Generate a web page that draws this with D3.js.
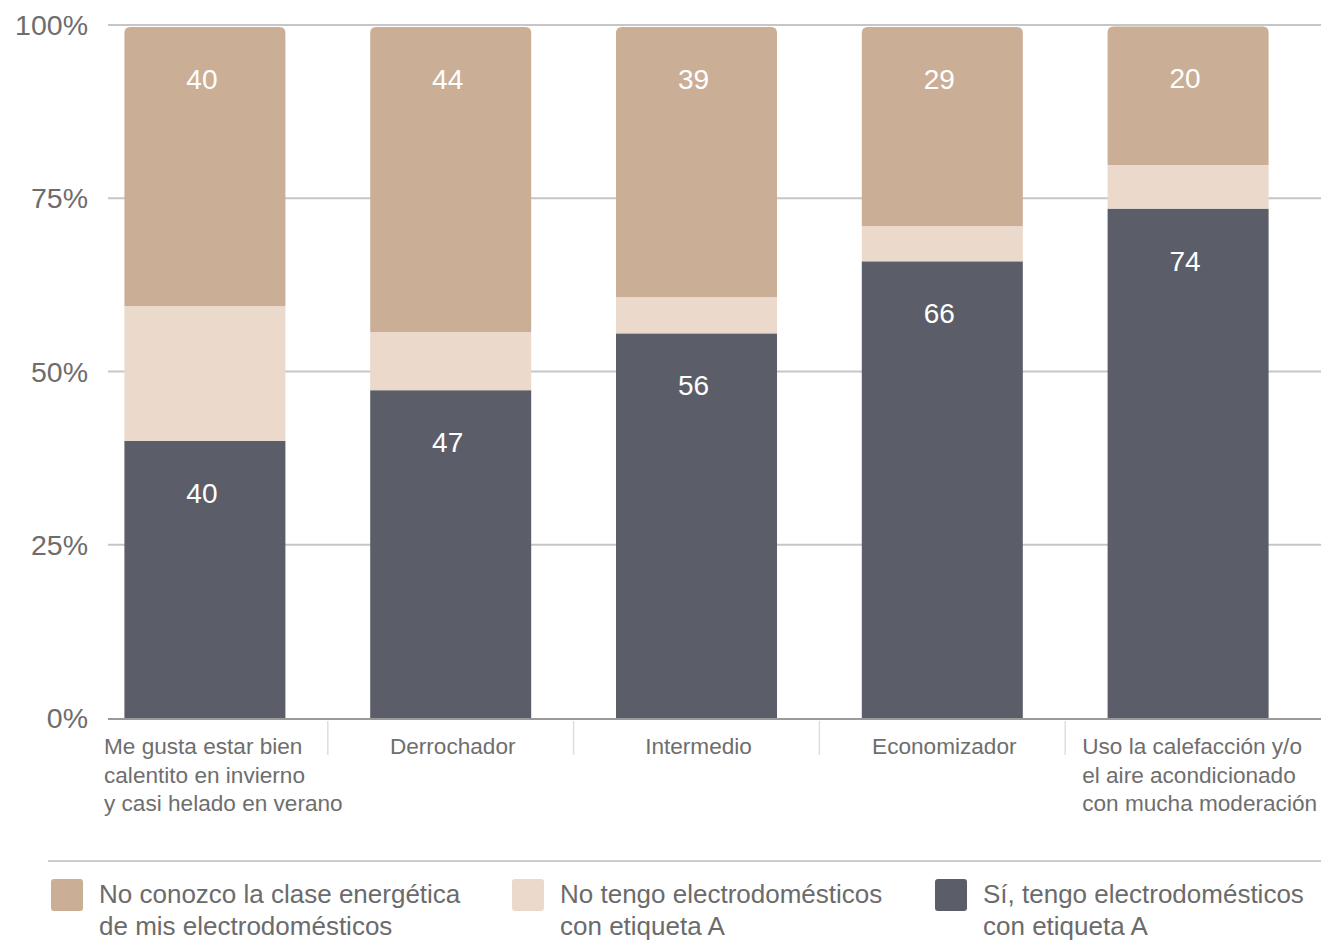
<!DOCTYPE html>
<html>
<head>
<meta charset="utf-8">
<script src="https://cdn.jsdelivr.net/npm/d3@7"></script>
<style>
  html, body { margin: 0; padding: 0; background: #fff; }
  svg { display: block; font-family: "Liberation Sans", Arial, sans-serif; }
</style>
</head>
<body>
<svg></svg>
<script>
// categorías (eje x), cada una con sus líneas de texto
const categories = [
    "Me gusta estar bien calentito en invierno y casi helado en verano",
    "Derrochador",
    "Intermedio",
    "Economizador",
    "Uso la calefacción y/o el aire acondicionado con mucha moderación"
];
const categoryLines = [
    ["Me gusta estar bien", "calentito en invierno", "y casi helado en verano"],
    ["Derrochador"],
    ["Intermedio"],
    ["Economizador"],
    ["Uso la calefacción y/o", "el aire acondicionado", "con mucha moderación"]
];

// series (de abajo hacia arriba)
const siTengo = [40, 47.3, 55.5, 65.9, 73.5];
const noTengo = [19.4, 8.4, 5.2, 5.1, 6.3];
const noConozco = [40.3, 44, 39, 28.7, 20];

const seriesNames = [
    "Sí, tengo electrodomésticos con etiqueta A",
    "No tengo electrodomésticos con etiqueta A",
    "No conozco la clase energética de mis electrodomésticos"
];
const legendLines = [
    ["No conozco la clase energética", "de mis electrodomésticos"],
    ["No tengo electrodomésticos", "con etiqueta A"],
    ["Sí, tengo electrodomésticos", "con etiqueta A"]
];
const yTicks = [0, 25, 50, 75, 100];

const colors = ["#5b5e68", "#ebd9cb", "#cbae96"];
const seriesValues = [siTengo, noTengo, noConozco];

const width = 1321, height = 946;
const svg = d3.select("svg").attr("width", width).attr("height", height);

const rows = categories.map((c, i) => {
    const r = { cat: c };
    seriesNames.forEach((s, k) => r[s] = seriesValues[k][i]);
    return r;
});
const stacked = d3.stack().keys(seriesNames)(rows);

const x = d3.scaleBand()
    .domain(categories)
    .range([82, 1311])
    .paddingInner(0.345)
    .paddingOuter(0.1725);

const y = d3.scaleLinear()
    .domain([0, 100])
    .range([718, 25]);

// líneas de cuadrícula
svg.append("g")
    .selectAll("line")
    .data(yTicks.filter(t => t > 0))
    .enter()
    .append("line")
    .attr("x1", 108)
    .attr("x2", width)
    .attr("y1", d => y(d))
    .attr("y2", d => y(d))
    .attr("stroke", "#c6c6c6")
    .attr("stroke-width", 2);

// etiquetas eje y
svg.append("g")
    .selectAll("text")
    .data(yTicks)
    .enter()
    .append("text")
    .attr("x", 88)
    .attr("y", d => y(d) + 10)
    .style("text-anchor", "end")
    .style("font-size", "28.5px")
    .style("fill", "#6d6d6d")
    .text(d => d + "%");

// barras
const step = x.step();
const bw = x.bandwidth();
const rad = 6;

stacked.forEach((layer, k) => {
    const g = svg.append("g");
    layer.forEach((d, i) => {
        const x0 = x(categories[i]);
        const top = y(d[1]), bot = y(d[0]);
        if (k === stacked.length - 1) {
            const p = d3.path();
            p.moveTo(x0, bot);
            p.lineTo(x0, top + rad);
            p.quadraticCurveTo(x0, top, x0 + rad, top);
            p.lineTo(x0 + bw - rad, top);
            p.quadraticCurveTo(x0 + bw, top, x0 + bw, top + rad);
            p.lineTo(x0 + bw, bot);
            p.closePath();
            g.append("path").attr("d", p.toString()).attr("fill", colors[k]);
        } else {
            g.append("rect")
                .attr("x", x0)
                .attr("y", top)
                .attr("width", bw)
                .attr("height", bot - top)
                .attr("fill", colors[k]);
        }
    });
});

// valores sobre las barras
[0, 2].forEach(k => {
    svg.append("g")
        .selectAll("text")
        .data(stacked[k])
        .enter()
        .append("text")
        .attr("x", (d, i) => x(categories[i]) + bw / 2 - 3)
        .attr("y", d => y(d[1]) + 62)
        .style("text-anchor", "middle")
        .style("font-size", "28px")
        .style("fill", "#fff")
        .text(d => Math.round(d[1] - d[0]));
});

// eje x
svg.append("line")
    .attr("x1", 108)
    .attr("x2", width)
    .attr("y1", y(0) + 1)
    .attr("y2", y(0) + 1)
    .attr("stroke", "#9a9a9a")
    .attr("stroke-width", 2);

// separadores entre categorías
svg.append("g")
    .selectAll("line")
    .data(categories.slice(1))
    .enter()
    .append("line")
    .attr("x1", d => x(d) - step * x.paddingInner() / 2)
    .attr("x2", d => x(d) - step * x.paddingInner() / 2)
    .attr("y1", y(0) + 3)
    .attr("y2", 755)
    .attr("stroke", "#dedede")
    .attr("stroke-width", 1.5);

// etiquetas de categorías
categories.forEach((c, i) => {
    const lines = categoryLines[i];
    const multi = lines.length > 1;
    const cellStart = x(c) - step * x.paddingInner() / 2;
    const t = svg.append("text")
        .attr("x", multi ? cellStart + (i === 0 ? 22 : 17) : x(c) + bw / 2 + 2)
        .attr("y", 754)
        .style("text-anchor", multi ? "start" : "middle")
        .style("font-size", "22.6px")
        .style("fill", "#6e6e6e");
    lines.forEach((l, j) => {
        t.append("tspan")
            .attr("x", t.attr("x"))
            .attr("dy", j === 0 ? 0 : 28.5)
            .text(l);
    });
});

// leyenda
svg.append("line")
    .attr("x1", 48)
    .attr("x2", width)
    .attr("y1", 861)
    .attr("y2", 861)
    .attr("stroke", "#bdbdbd")
    .attr("stroke-width", 1.5);

const legendX = [51, 512, 935];
const legendColors = [colors[2], colors[1], colors[0]];
legendLines.forEach((lines, i) => {
    const g = svg.append("g").attr("transform", `translate(${legendX[i]}, 879)`);
    g.append("rect")
        .attr("width", 32)
        .attr("height", 32)
        .attr("rx", 3)
        .attr("fill", legendColors[i]);
    const t = g.append("text")
        .attr("x", 48)
        .attr("y", 24)
        .style("font-size", "26px")
        .style("fill", "#6b6b6b");
    lines.forEach((l, j) => {
        t.append("tspan").attr("x", 48).attr("dy", j === 0 ? 0 : 31.5).text(l);
    });
});
</script>
</body>
</html>
